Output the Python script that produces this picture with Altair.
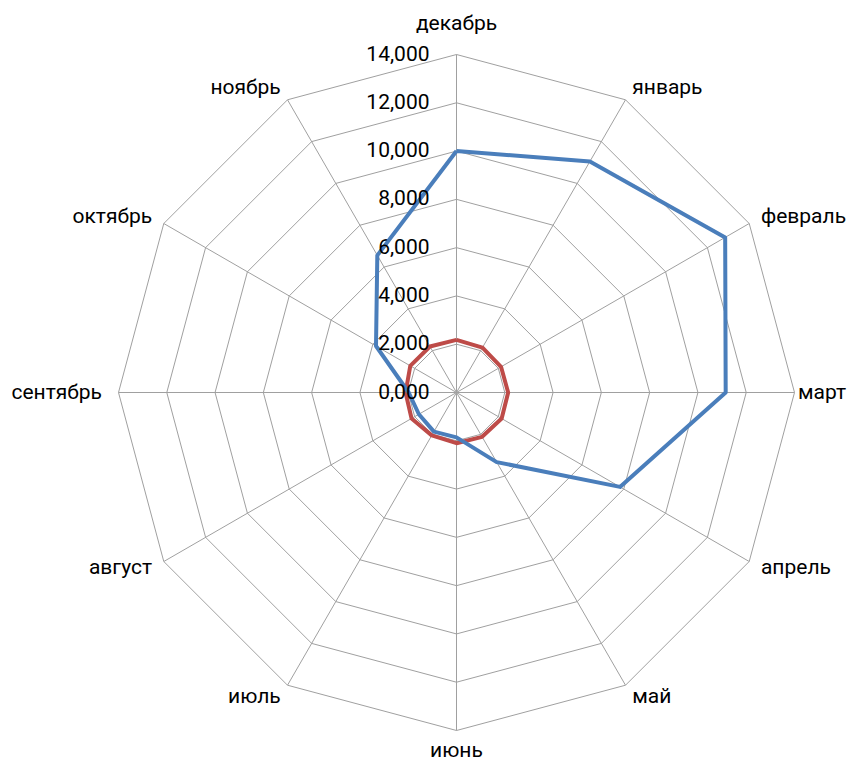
import altair as alt
import pandas as pd

# ---- data ----
months = ["декабрь", "январь", "февраль", "март", "апрель", "май",
          "июнь", "июль", "август", "сентябрь", "октябрь", "ноябрь"]
series_blue = [10000, 11050, 12850, 11150, 7820, 3330, 1860, 1870, 1800, 1980, 3850, 6560]
series_red = [2180, 2150, 2130, 2140, 2160, 2120, 2100, 2050, 2150, 2110, 2210, 2200]
ring_levels = [2000, 4000, 6000, 8000, 10000, 12000, 14000]
tick_values = [0, 2000, 4000, 6000, 8000, 10000, 12000, 14000]
tick_labels = ["0,000", "2,000", "4,000", "6,000", "8,000", "10,000", "12,000", "14,000"]
R_MAX = 14000

# ---- layout ----
W, H = 845, 753
PX_PER_UNIT = 338.0 / R_MAX
CX, CY = 448.5, 384.5  # centre inside plot area
XMIN = -CX / PX_PER_UNIT
XMAX = XMIN + W / PX_PER_UNIT
YMAX = CY / PX_PER_UNIT
YMIN = YMAX - H / PX_PER_UNIT
R_LAB = R_MAX + 13.5 / PX_PER_UNIT

FONT = "Roboto"
FS = 21
BLUE = "#4A7EBB"
RED = "#BE4B48"
GRID = "#A0A0A0"

n = len(months)

series_rows = []
for name, vals in (("blue", series_blue), ("red", series_red)):
    for step in range(n + 1):
        series_rows.append({"series": name, "step": step, "idx": step % n, "value": vals[step % n]})
series_df = pd.DataFrame(series_rows)

ring_df = pd.DataFrame([
    {"level": lv, "step": s, "idx": s % n, "value": lv}
    for lv in ring_levels for s in range(n + 1)
])
spoke_df = pd.DataFrame({"idx": list(range(n)), "value": [R_MAX] * n})
label_df = pd.DataFrame({"idx": list(range(n)), "month": months, "value": [R_LAB] * n})
tick_df = pd.DataFrame({"value": tick_values, "label": tick_labels})

xs = alt.Scale(domain=[XMIN, XMAX], nice=False, zero=False)
ys = alt.Scale(domain=[YMIN, YMAX], nice=False, zero=False)


def polar(chart):
    return chart.transform_calculate(
        ang=f"datum.idx * 2 * PI / {n}"
    ).transform_calculate(
        px="datum.value * sin(datum.ang)",
        py="datum.value * cos(datum.ang)",
        s="sin(datum.ang)",
        c="cos(datum.ang)",
    )


X = alt.X("px:Q", scale=xs, axis=None)
Y = alt.Y("py:Q", scale=ys, axis=None)

rings = polar(alt.Chart(ring_df)).mark_line(color=GRID, strokeWidth=1).encode(
    x=X, y=Y, detail="level:N", order="step:Q"
)

spokes = polar(alt.Chart(spoke_df)).transform_calculate(zx="0", zy="0").mark_rule(
    color=GRID, strokeWidth=1
).encode(
    x=alt.X("zx:Q", scale=xs, axis=None),
    y=alt.Y("zy:Q", scale=ys, axis=None),
    x2="px:Q", y2="py:Q",
)


def series_layer(name, color):
    return polar(alt.Chart(series_df).transform_filter(f"datum.series == '{name}'")).mark_line(
        color=color, strokeWidth=4, strokeJoin="round"
    ).encode(x=X, y=Y, order="step:Q")


red_line = series_layer("red", RED)
blue_line = series_layer("blue", BLUE)

text_common = dict(font=FONT, fontSize=FS, color="#000000")


def label_layer(filt, **kw):
    return polar(alt.Chart(label_df)).transform_filter(filt).mark_text(
        **text_common, **kw
    ).encode(x=X, y=Y, text="month:N")


lab_right = label_layer("datum.s > 0.01 && datum.s < 0.99", align="left", baseline="middle")
lab_left = label_layer("datum.s < -0.01 && datum.s > -0.99", align="right", baseline="middle")
lab_east = label_layer("datum.s >= 0.99", align="left", baseline="middle", dx=-10)
lab_west = label_layer("datum.s <= -0.99", align="right", baseline="middle", dx=-3)
lab_top = label_layer("datum.c > 0.99", align="center", baseline="bottom", dy=-7)
lab_bottom = label_layer("datum.c < -0.99", align="center", baseline="top", dy=-4)

ticks = alt.Chart(tick_df).transform_calculate(zx="0").mark_text(
    **text_common, align="right", baseline="middle", dx=-27
).encode(
    x=alt.X("zx:Q", scale=xs, axis=None),
    y=alt.Y("value:Q", scale=ys, axis=None),
    text="label:N",
)

chart = alt.layer(
    rings, spokes, red_line, blue_line, ticks,
    lab_right, lab_left, lab_east, lab_west, lab_top, lab_bottom
).properties(
    width=W, height=H, padding=0, autosize=alt.AutoSizeParams(type="none")
).configure_view(strokeWidth=0)

chart.save("out.html", embed_options={"renderer": "svg", "actions": False})
